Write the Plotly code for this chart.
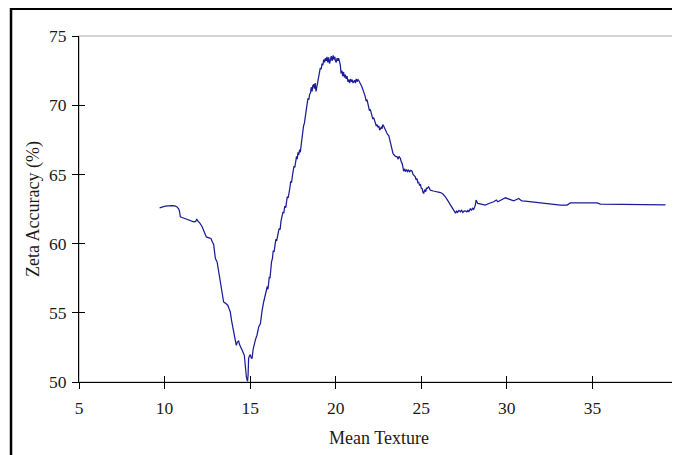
import plotly.graph_objects as go

# Mean Texture (x) and Zeta Accuracy % (y)
texture = [
    9.71, 10.04, 10.43, 10.60, 10.73, 10.83, 10.88, 10.92, 11.10, 11.31, 11.50, 11.70, 11.82, 11.88, 11.93,
    12.05, 12.19, 12.30, 12.40, 12.44, 12.60, 12.71, 12.80, 12.87, 12.92, 12.97, 13.07, 13.15, 13.26, 13.35,
    13.45, 13.55, 13.69, 13.77, 13.84, 13.92, 14.00, 14.07, 14.13, 14.19, 14.26, 14.33, 14.38, 14.43, 14.50,
    14.58, 14.66, 14.72, 14.78, 14.82, 14.85, 14.88, 14.91, 14.96, 15.01, 15.06, 15.11, 15.18, 15.25, 15.32,
    15.40, 15.45, 15.50, 15.60, 15.65, 15.70, 15.79, 15.87,
    15.95, 16.00, 16.04, 16.08, 16.12, 16.16, 16.20, 16.25, 16.30, 16.35, 16.40, 16.45, 16.50, 16.55, 16.60,
    16.66, 16.70, 16.75, 16.80, 16.86, 16.92, 16.97, 17.02, 17.08, 17.12, 17.17, 17.22, 17.27, 17.32, 17.37,
    17.42, 17.47, 17.52, 17.56, 17.61, 17.66, 17.71, 17.75, 17.80, 17.84, 17.89, 17.93, 17.98, 18.03, 18.08,
    18.12, 18.17, 18.22, 18.27, 18.33, 18.38, 18.43, 18.48, 18.53, 18.57, 18.62, 18.66, 18.71, 18.75, 18.80,
    18.85, 18.89, 18.94, 19.00, 19.05, 19.10, 19.15, 19.20, 19.25, 19.30, 19.35, 19.40, 19.45, 19.49, 19.54,
    19.59, 19.64, 19.69, 19.74, 19.79, 19.85, 19.90, 19.95, 19.98, 20.03, 20.08, 20.13, 20.17, 20.22, 20.27,
    20.31, 20.36, 20.41, 20.46, 20.51, 20.56, 20.61, 20.66, 20.71, 20.76, 20.81, 20.86, 20.91, 20.96, 21.01,
    21.05, 21.10, 21.15, 21.20, 21.25, 21.30, 21.34, 21.40, 21.45, 21.50, 21.54, 21.58, 21.63, 21.68, 21.73,
    21.78, 21.83, 21.88, 21.93, 21.97, 22.02, 22.07, 22.12, 22.17, 22.22, 22.27, 22.32, 22.37, 22.42, 22.47,
    22.52, 22.57, 22.61, 22.66, 22.71, 22.75, 22.80, 22.86, 22.92, 22.97, 23.02, 23.10, 23.15, 23.19, 23.24,
    23.29, 23.35, 23.42, 23.50, 23.59, 23.65, 23.70, 23.78, 23.83, 23.88, 23.93, 23.97, 24.03, 24.08, 24.14,
    24.20, 24.26, 24.32, 24.39, 24.46, 24.52, 24.58, 24.65, 24.70, 24.75, 24.80, 24.85, 24.90, 24.95, 25.00,
    25.05, 25.10, 25.14, 25.20, 25.26, 25.30, 25.34, 25.43, 25.48, 25.53, 25.70, 25.90, 26.12, 26.25, 26.41,
    26.55, 26.70, 26.80, 26.93, 27.00, 27.06, 27.12, 27.20, 27.29, 27.36, 27.43, 27.50, 27.58, 27.66, 27.72,
    27.77, 27.82, 27.87, 27.93, 28.00, 28.06, 28.11, 28.16, 28.20, 28.24, 28.30, 28.50, 28.74, 28.95, 29.10,
    29.23, 29.32, 29.39, 29.47, 29.60, 29.75, 29.92, 30.05, 30.20, 30.40, 30.50, 30.60, 30.69, 30.80, 30.89,
    31.20, 31.50, 31.96, 32.50, 33.13, 33.52, 33.60, 33.71, 34.50, 35.27, 35.47, 36.50, 38.00, 39.27,
]
accuracy = [
    62.58, 62.70, 62.75, 62.73, 62.65, 62.50, 62.30, 61.93, 61.85, 61.74, 61.65, 61.57, 61.60, 61.78, 61.65,
    61.50, 61.24, 60.90, 60.50, 60.48, 60.42, 60.37, 60.10, 59.94, 59.40, 58.92, 58.68, 58.00, 57.23, 56.50,
    55.78, 55.70, 55.55, 55.30, 55.06, 54.40, 53.86, 53.50, 53.14, 52.65, 52.90, 52.96, 52.70, 52.53, 52.40,
    52.17, 51.93, 51.00, 50.36, 50.15, 50.05, 50.50, 51.69, 51.90, 51.98, 51.75, 51.69, 52.40, 52.89, 53.10,
    53.38, 53.80, 53.98, 54.22, 54.80, 55.18, 55.78, 56.20,
    56.51, 56.90, 56.70, 57.30, 57.60, 57.50, 58.50, 58.70, 58.90, 59.50, 59.40, 60.10, 60.30, 60.20, 60.70,
    60.90, 61.10, 61.00, 61.60, 62.05, 62.30, 62.20, 62.70, 62.60, 62.90, 63.40, 63.30, 63.90, 64.00, 64.50,
    64.40, 64.90, 65.30, 65.60, 65.50, 66.00, 66.30, 66.10, 66.60, 66.40, 66.80, 66.60, 67.20, 67.70, 67.90,
    68.50, 68.70, 69.30, 69.80, 70.10, 70.50, 70.40, 70.80, 70.90, 71.30, 71.00, 71.40, 71.50, 71.20, 71.60,
    71.00, 71.30, 71.50, 71.90, 72.20, 72.70, 72.60, 73.00, 72.90, 73.30, 73.10, 73.40, 73.20, 73.50, 73.10,
    73.45, 73.00, 73.30, 73.55, 73.20, 73.60, 73.30, 73.50, 73.20, 73.10, 73.40, 73.20, 73.40, 73.10, 72.90,
    72.30, 72.50, 72.10, 72.40, 72.00, 72.20, 71.90, 72.10, 71.70, 71.85, 71.60, 71.90, 71.70, 71.85, 71.60,
    71.70, 71.80, 71.60, 71.90, 71.70, 71.85, 71.80, 71.60, 71.50, 71.40, 71.30, 71.10, 70.90, 70.80, 70.60,
    70.30, 70.40, 70.00, 69.90, 69.60, 69.70, 69.40, 69.30, 69.00, 69.10, 68.80, 68.70, 68.50, 68.60, 68.40,
    68.50, 68.20, 68.30, 68.40, 68.30, 68.60, 68.50, 68.30, 68.10, 68.00, 67.90, 67.80, 67.50, 67.35, 66.90,
    66.60, 66.50, 66.40, 66.30, 66.27, 66.10, 66.30, 66.15, 65.90, 65.80, 65.50, 65.23, 65.40, 65.20, 65.35,
    65.20, 65.31, 65.20, 65.30, 65.23, 65.00, 64.90, 64.82, 64.60, 64.70, 64.40, 64.42, 64.20, 64.30, 64.00,
    63.98, 63.70, 63.62, 63.90, 63.75, 64.00, 63.98, 64.10, 63.90, 63.86, 63.80, 63.75, 63.69, 63.60, 63.38,
    63.10, 62.78, 62.60, 62.37, 62.20, 62.35, 62.25, 62.40, 62.30, 62.40, 62.25, 62.35, 62.37, 62.30, 62.40,
    62.29, 62.50, 62.54, 62.40, 62.55, 62.47, 62.60, 62.78, 63.15, 63.00, 62.90, 62.85, 62.78, 62.90, 62.95,
    63.02, 63.10, 63.15, 63.02, 63.10, 63.20, 63.31, 63.25, 63.20, 63.09, 63.15, 63.20, 63.26, 63.15, 63.09,
    63.05, 63.00, 62.94, 62.88, 62.78, 62.78, 62.85, 62.94, 62.94, 62.94, 62.85, 62.85, 62.83, 62.80,
]

x_ticks = [5, 10, 15, 20, 25, 30, 35, 40]
y_ticks = [50, 55, 60, 65, 70, 75]
x_title = "Mean Texture"
y_title = "Zeta Accuracy (%)"

FONT = "Liberation Serif"

fig = go.Figure()
fig.add_trace(go.Scatter(
    x=texture, y=accuracy, mode="lines",
    line=dict(color="#1c1c96", width=1.25),
    showlegend=False, hoverinfo="skip",
))
# a single-point (so invisible) trace that makes the overlay axes render,
# which supply the inward half of the crossing tick marks
fig.add_trace(go.Scatter(
    x=texture[:1], y=accuracy[:1], mode="lines", xaxis="x2", yaxis="y2",
    line=dict(color="#1c1c96", width=1.25), showlegend=False, hoverinfo="skip",
))

axis_common = dict(
    showgrid=False, zeroline=False,
    tickfont=dict(family=FONT, size=17.5, color="#1a1a1a"),
    tickcolor="#000", ticklen=6, tickwidth=1,
)

# The page body has an 8px margin, so the figure is 8px smaller and its
# margins are shifted to put the plot area where the reference has it.
fig.update_layout(
    width=672, height=447,
    margin=dict(l=71, r=2, t=28, b=73, pad=0),
    paper_bgcolor="white", plot_bgcolor="white",
    xaxis=dict(range=[5, 40], tickvals=x_ticks, ticktext=[str(v) for v in x_ticks],
               ticks="outside", showline=True, linecolor="#000", linewidth=1,
               ticklabelstandoff=4, **axis_common),
    yaxis=dict(range=[50, 75], tickvals=y_ticks, ticktext=[str(v) for v in y_ticks],
               ticks="outside", showline=True, linecolor="#000", linewidth=1,
               ticklabelstandoff=2, **axis_common),
    xaxis2=dict(range=[5, 40], tickvals=x_ticks, overlaying="x", anchor="y", side="bottom",
                ticks="inside", showticklabels=False, showline=False, **axis_common),
    yaxis2=dict(range=[50, 75], tickvals=y_ticks, overlaying="y", anchor="x", side="left",
                ticks="inside", showticklabels=False, showline=False, **axis_common),
    shapes=[
        dict(type="rect", xref="paper", yref="paper", x0=0, x1=1, y0=0, y1=1,
             line=dict(color="#a8a8a8", width=1.2), layer="below"),
        dict(type="line", xref="paper", yref="paper", x0=-0.1135, x1=0.9967, y0=1.0795, y1=1.0795,
             line=dict(color="#000", width=3)),
        dict(type="line", xref="paper", yref="paper", x0=-0.1135, x1=-0.1135, y0=1.0867, y1=-0.25,
             line=dict(color="#000", width=2.5)),
    ],
    annotations=[
        dict(text=x_title, xref="paper", yref="paper", x=0.5, y=-0.162, showarrow=False,
             xanchor="center", yanchor="middle", font=dict(family=FONT, size=18, color="#1a1a1a")),
        dict(text=y_title, xref="paper", yref="paper", x=-0.0768, y=0.5, showarrow=False, textangle=-90,
             xanchor="center", yanchor="middle", font=dict(family=FONT, size=18, color="#1a1a1a")),
    ],
)

fig.write_html("out.html")
